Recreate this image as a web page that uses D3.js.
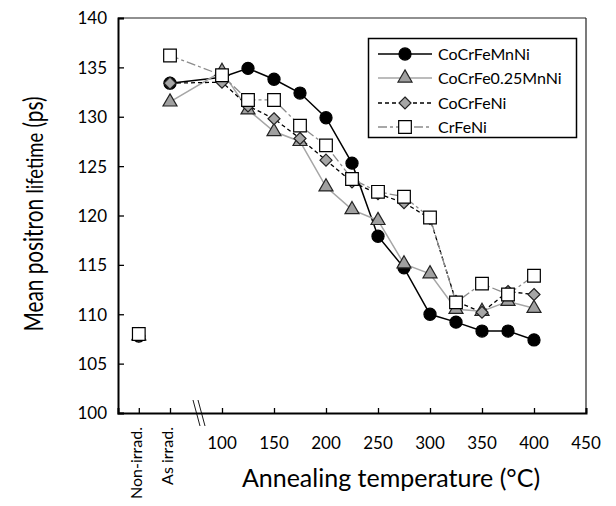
<!DOCTYPE html>
<html><head><meta charset="utf-8">
<script src="https://cdn.jsdelivr.net/npm/d3@7/dist/d3.min.js"></script>
<style>body{margin:0;background:#fff}svg{display:block}text{font-family:Lato,"Open Sans",sans-serif;fill:#000}</style>
</head><body><div id="c"></div>
<script>
// x positions: Non-irrad -> 20, As irrad -> 50, then annealing temperatures
const xKeys = [20, 50, 100, 125, 150, 175, 200, 225, 250, 275, 300, 325, 350, 375, 400];
const seriesNames = ["CoCrFeMnNi", "CoCrFe0.25MnNi", "CoCrFeNi", "CrFeNi"];
const cocrfemnni   = [107.8, 133.4, 134.0, 134.9, 133.8, 132.4, 129.9, 125.3, 117.9, 114.7, 110.0, 109.2, 108.3, 108.3, 107.4];
const cocrfe025    = [107.8, 131.5, 134.6, 130.7, 128.5, 127.5, 122.9, 120.6, 119.5, 115.1, 114.1, 110.5, 110.3, 111.3, 110.6];
const cocrfeni     = [107.8, 133.4, 133.5, 131.1, 129.8, 127.8, 125.6, 123.4, 122.2, 121.3, 119.7, 111.3, 110.2, 112.3, 112.0];
const crfeni       = [108.0, 136.2, 134.2, 131.7, 131.7, 129.1, 127.1, 123.7, 122.4, 121.9, 119.8, 111.2, 113.1, 112.0, 113.9];
const yTicks = [100, 105, 110, 115, 120, 125, 130, 135, 140];
const xTicks = [100, 150, 200, 250, 300, 350, 400, 450];
const catTicks = [{v: 20, label: "Non-irrad."}, {v: 50, label: "As irrad."}];

const W = 616, H = 506;
const svg = d3.select("#c").append("svg").attr("width", W).attr("height", H);
const x = d3.scaleLinear().domain([0, 450]).range([118, 586]);
const y = d3.scaleLinear().domain([100, 140]).range([413, 18]);

// frame (top/right)
svg.append("line").attr("x1", x(0)).attr("x2", x(450)).attr("y1", y(140)).attr("y2", y(140)).attr("stroke", "#222").attr("stroke-width", 1.2);
svg.append("line").attr("x1", x(450)).attr("x2", x(450)).attr("y1", y(140)).attr("y2", y(100)).attr("stroke", "#222").attr("stroke-width", 1.2);

// y axis
const yAx = svg.append("g").attr("transform", `translate(${x(0)},0)`)
  .call(d3.axisRight(y).tickValues(yTicks).tickSize(6).tickFormat(d3.format("d")));
yAx.select(".domain").attr("stroke", "#000").attr("stroke-width", 2);
yAx.selectAll(".tick line").attr("stroke", "#000").attr("stroke-width", 1.3);
yAx.selectAll(".tick text").attr("x", -11).attr("text-anchor", "end").attr("font-size", 17).attr("dy", "0.35em").style("font-family", "Lato,sans-serif").attr("fill", "#000");

// x axis
const xAx = svg.append("g").attr("transform", `translate(0,${y(100)})`)
  .call(d3.axisTop(x).tickValues(xTicks.concat(catTicks.map(d => d.v))).tickSize(5).tickFormat(""));
xAx.select(".domain").attr("stroke", "#000").attr("stroke-width", 2);
xAx.selectAll(".tick line").attr("stroke", "#000").attr("stroke-width", 1.3);
svg.append("g").selectAll("text").data(xTicks).join("text")
  .attr("x", d => x(d)).attr("y", 449).attr("text-anchor", "middle").attr("font-size", 17).text(d => d);
svg.append("g").selectAll("text").data(catTicks).join("text")
  .attr("transform", d => `translate(${x(d.v) + 3},427) rotate(-90)`)
  .attr("text-anchor", "end").attr("font-size", 16).text(d => d.label);

// axis break marks
[0, 5].forEach(o => {
  svg.append("line").attr("x1", 193 + o).attr("y1", 400).attr("x2", 200 + o).attr("y2", 426)
    .attr("stroke", "#000").attr("stroke-width", 0.9);
});

// titles
const yt = svg.append("text").attr("transform", `translate(43,214) rotate(-90) scale(0.8,1)`).attr("text-anchor", "middle");
yt.append("tspan").attr("font-size", 26).text("Mean positron ");
yt.append("tspan").attr("font-size", 23).text("lifetime");
yt.append("tspan").attr("font-size", 26).text(" (ps)");
svg.append("text").attr("x", 391).attr("y", 487).attr("text-anchor", "middle").attr("font-size", 25)
  .text("Annealing temperature (\u00B0C)");

const diamond = {draw(ctx, size) { const s = Math.sqrt(size) / 2 * Math.SQRT2; ctx.moveTo(0, -s); ctx.lineTo(s, 0); ctx.lineTo(0, s); ctx.lineTo(-s, 0); ctx.closePath(); }};
const styles = [
  {vals: cocrfemnni, stroke: "#000", dash: null, width: 1.5, sym: d3.symbolCircle, size: 115, fill: "#000", mstroke: "#000"},
  {vals: cocrfe025, stroke: "#a6a6a6", dash: null, width: 1.5, sym: d3.symbolTriangle, size: 85, fill: "#a0a0a0", mstroke: "#222"},
  {vals: cocrfeni, stroke: "#000", dash: "4,3", width: 1.3, sym: diamond, size: 72, fill: "#a6a6a6", mstroke: "#222"},
  {vals: crfeni, stroke: "#8c8c8c", dash: "9,3,3,3", width: 1.3, sym: d3.symbolSquare, size: 160, fill: "#fff", mstroke: "#000"}
];

const line = d3.line().x(d => x(d[0])).y(d => y(d[1]));
styles.forEach(s => {
  const pts = xKeys.map((k, i) => [k, s.vals[i]]);
  svg.append("path").datum(pts.slice(1)).attr("d", line).attr("fill", "none")
    .attr("stroke", s.stroke).attr("stroke-width", s.width).attr("stroke-dasharray", s.dash);
});
styles.forEach(s => {
  const pts = xKeys.map((k, i) => [k, s.vals[i]]);
  svg.append("g").selectAll("path").data(pts).join("path")
    .attr("transform", d => `translate(${x(d[0])},${y(d[1])})`)
    .attr("d", d3.symbol().type(s.sym).size(s.size))
    .attr("fill", s.fill).attr("stroke", s.mstroke).attr("stroke-width", 1.2);
});

// legend
const lg = svg.append("g");
lg.append("rect").attr("x", 368.5).attr("y", 38.5).attr("width", 208).attr("height", 99)
  .attr("fill", "#fff").attr("stroke", "#000").attr("stroke-width", 1.5);
const rowsY = [54, 78, 103, 127];
styles.forEach((s, i) => {
  lg.append("line").attr("x1", 378).attr("x2", 432).attr("y1", rowsY[i]).attr("y2", rowsY[i])
    .attr("stroke", s.stroke).attr("stroke-width", s.width).attr("stroke-dasharray", s.dash);
  lg.append("path").attr("transform", `translate(405,${rowsY[i]})`)
    .attr("d", d3.symbol().type(s.sym).size(s.size)).attr("fill", s.fill).attr("stroke", s.mstroke).attr("stroke-width", 1.2);
  lg.append("text").attr("x", 438).attr("y", rowsY[i]).attr("dy", "0.35em").attr("font-size", 16).text(seriesNames[i]);
});
</script></body></html>
